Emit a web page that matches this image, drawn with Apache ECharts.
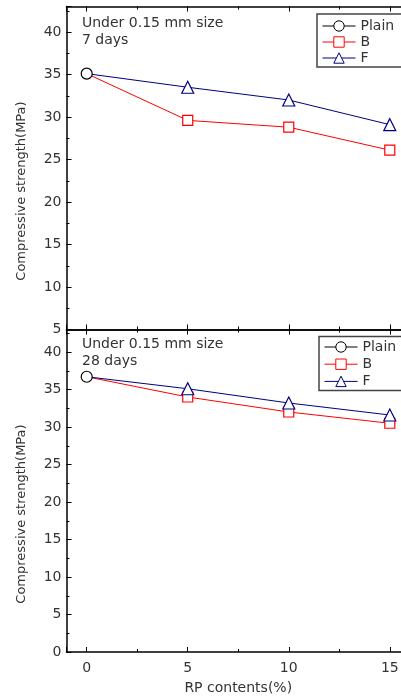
<!DOCTYPE html>
<html><head><meta charset="utf-8">
<script src="https://cdn.jsdelivr.net/npm/echarts@6/dist/echarts.min.js"></script>
<style>html,body{margin:0;padding:0;background:#fff}#c{width:401px;height:696px}</style>
</head><body><div id="c"></div>
<script>
// RP content (%) on the x axis
const rpContents = [0, 5, 10, 15];
const seriesNames = ['Plain', 'B', 'F'];
// 7-day compressive strength (MPa)
const plain7 = [35.1];
const b7 = [35.1, 29.6, 28.8, 26.1];
const f7 = [35.1, 33.5, 32.0, 29.1];
// 28-day compressive strength (MPa)
const plain28 = [36.7];
const b28 = [36.7, 34.0, 32.0, 30.5];
const f28 = [36.7, 35.1, 33.2, 31.6];

const FONT = 'DejaVu Sans';
const TXT = '#333';

const styles = {
  Plain: { symbol: 'circle', symbolSize: 11, color: '#000' },
  B: { symbol: 'rect', symbolSize: 10, color: '#ff0000' },
  F: { symbol: 'triangle', symbolSize: 12, color: '#000080' }
};

function makeSeries(name, values, gridIdx) {
  const st = styles[name];
  const data = values.map((v, i) => {
    // the 0 % point is shared with the plain mix and marked only by its circle
    if (name !== 'Plain' && i === 0) return { value: [rpContents[i], v], symbol: 'none' };
    return [rpContents[i], v];
  });
  return {
    name, type: 'line', xAxisIndex: gridIdx * 2, yAxisIndex: gridIdx * 2,
    data, symbol: st.symbol, symbolSize: st.symbolSize, showAllSymbol: true,
    lineStyle: { color: st.color, width: 1 },
    itemStyle: { color: '#fff', borderColor: st.color, borderWidth: 1.2 },
    z: name === 'Plain' ? 5 : 3, animation: false
  };
}

const tickCommon = {
  axisLine: { show: true, onZero: false, lineStyle: { color: '#000', width: 1.5 } },
  axisTick: { show: true, inside: true, length: 5, lineStyle: { color: '#000', width: 1 } },
  minorTick: { show: true, splitNumber: 2, length: 3, lineStyle: { color: '#000', width: 1 } },
  splitLine: { show: false }
};

function xAx(gridIndex, position, labels) {
  return Object.assign({
    type: 'value', gridIndex, position, min: -1, max: 16, splitNumber: 4,
    axisLabel: { show: labels, color: TXT, fontFamily: FONT, fontSize: 14, margin: 9, showMinLabel: false, showMaxLabel: false },
    name: labels ? 'RP contents(%)' : '', nameLocation: 'middle', nameGap: 29,
    nameTextStyle: { color: TXT, fontFamily: FONT, fontSize: 14 }
  }, tickCommon);
}
function yAx(gridIndex, position, labels, min) {
  return Object.assign({
    type: 'value', gridIndex, position, min, max: 43, interval: 5,
    axisLabel: { show: labels, color: TXT, fontFamily: FONT, fontSize: 14, margin: 5, showMaxLabel: false }
  }, tickCommon);
}

const legendCommon = {
  data: seriesNames, orient: 'vertical', itemWidth: 33, itemHeight: 13,
  selectedMode: false,
  itemStyle: { borderWidth: 1 }, lineStyle: { width: 1 },
  textStyle: { color: TXT, fontFamily: FONT, fontSize: 14 }
};

// frame around each legend, running off the right edge
function legendFrame(x, y, h) {
  return { type: 'rect', shape: { x, y, width: 120, height: h }, z: 10,
    style: { fill: 'none', stroke: '#444', lineWidth: 1.5 } };
}

const chart = echarts.init(document.getElementById('c'), null, { renderer: 'canvas' });
chart.setOption({
  backgroundColor: '#fff',
  animation: false,
  grid: [
    { left: 66.5, width: 343.5, top: 6.5, height: 323, outerBoundsMode: 'none', containLabel: false },
    { left: 66.5, width: 343.5, top: 329.5, height: 322.5, outerBoundsMode: 'none', containLabel: false }
  ],
  xAxis: [xAx(0, 'bottom', false), xAx(0, 'top', false), xAx(1, 'bottom', true), xAx(1, 'top', false)],
  yAxis: [yAx(0, 'left', true, 5), yAx(0, 'right', false, 5), yAx(1, 'left', true, 0), yAx(1, 'right', false, 0)],
  legend: [
    Object.assign({ left: 317, top: 14, itemGap: 2, padding: [5, 2, 3, 5] }, legendCommon),
    Object.assign({ left: 319, top: 336.5, itemGap: 3.2, padding: [3.5, 2, 3, 5] }, legendCommon)
  ],
  graphic: [
    legendFrame(317, 14, 53),
    legendFrame(319, 336.5, 54),
    { type: 'text', left: 82, top: 15, style: { text: 'Under 0.15 mm size\n7 days', fill: TXT, font: '14px "' + FONT + '"', lineHeight: 17 } },
    { type: 'text', left: 82, top: 336, style: { text: 'Under 0.15 mm size\n28 days', fill: TXT, font: '14px "' + FONT + '"', lineHeight: 17 } },
    { type: 'text', x: 22, y: 191, rotation: Math.PI / 2, style: { text: 'Compressive strength(MPa)', fill: TXT, font: '13px "' + FONT + '"', align: 'center', verticalAlign: 'middle' } },
    { type: 'text', x: 22, y: 514, rotation: Math.PI / 2, style: { text: 'Compressive strength(MPa)', fill: TXT, font: '13px "' + FONT + '"', align: 'center', verticalAlign: 'middle' } }
  ],
  series: [
    makeSeries('B', b7, 0), makeSeries('F', f7, 0), makeSeries('Plain', plain7, 0),
    makeSeries('B', b28, 1), makeSeries('F', f28, 1), makeSeries('Plain', plain28, 1)
  ]
});
</script>
</body></html>
